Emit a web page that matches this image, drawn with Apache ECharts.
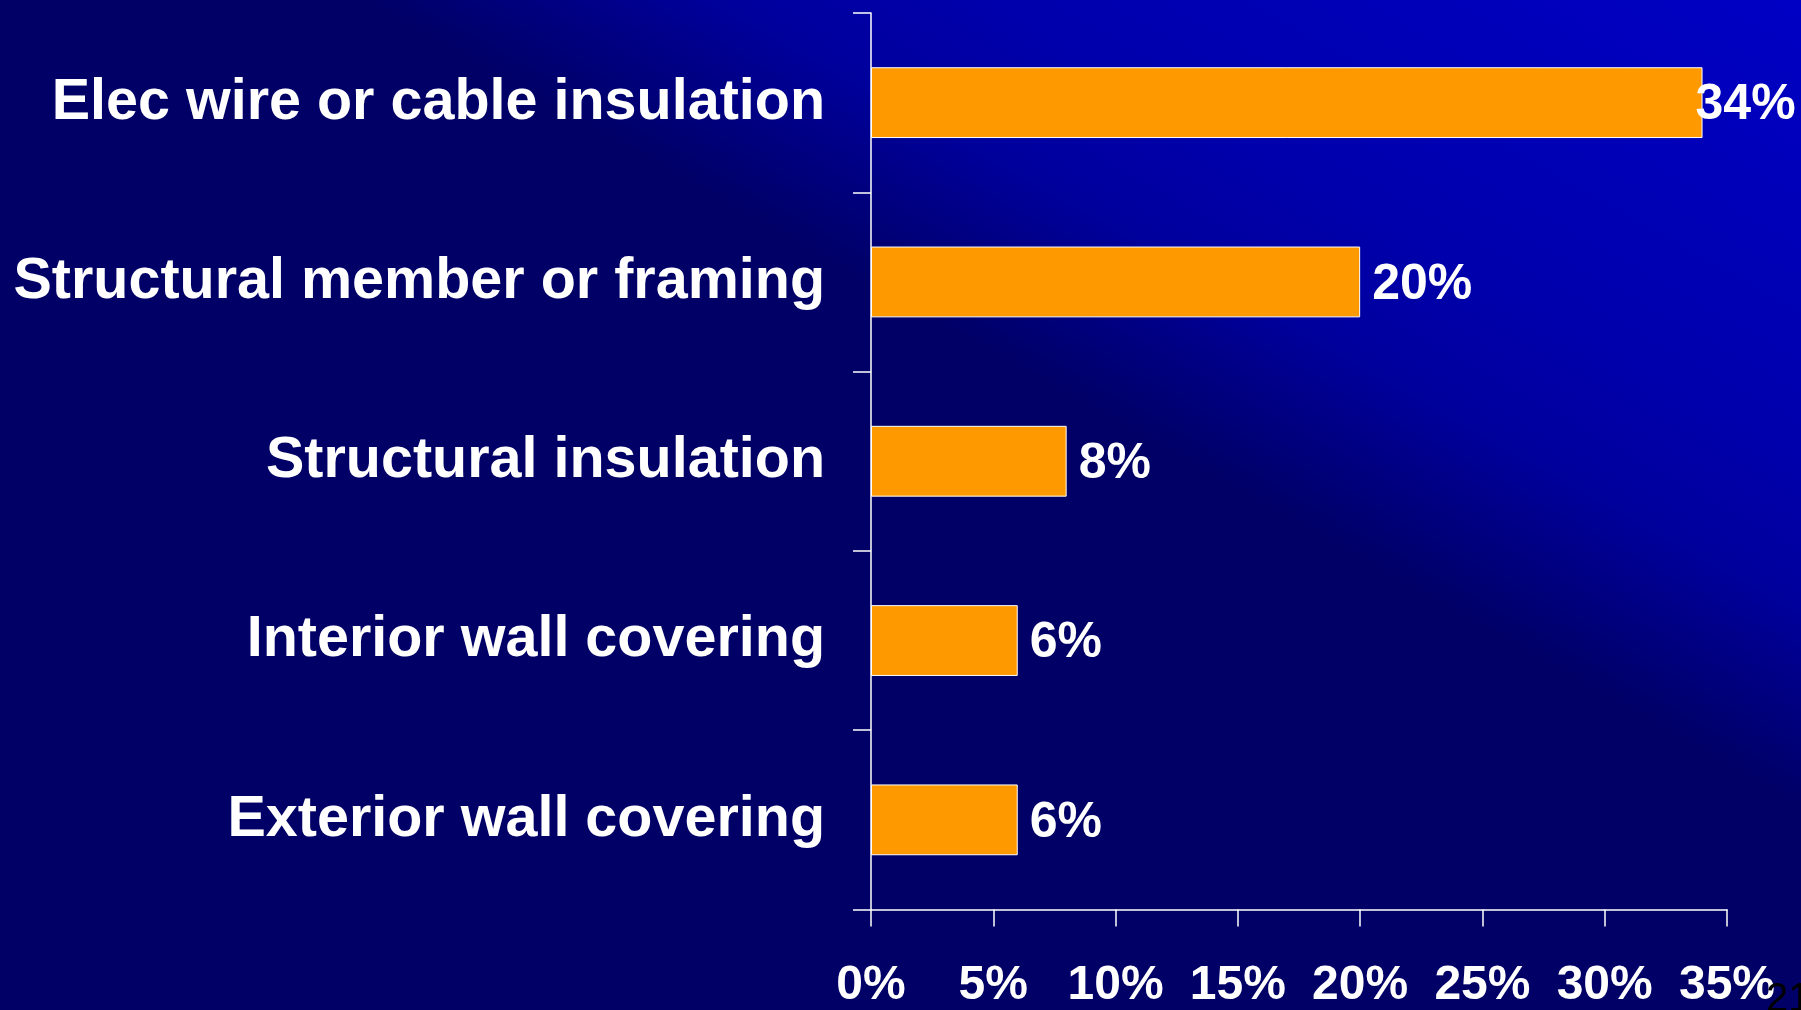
<!DOCTYPE html>
<html>
<head>
<meta charset="utf-8">
<script src="https://cdn.jsdelivr.net/npm/echarts@6/dist/echarts.min.js"></script>
<style>
  html, body { margin: 0; padding: 0; background: #000066; }
  #chart { width: 1801px; height: 1010px; }
</style>
</head>
<body>
<div id="chart"></div>
<script>
// Share of fires by item first ignited
const categories = [
  'Elec wire or cable insulation',
  'Structural member or framing',
  'Structural insulation',
  'Interior wall covering',
  'Exterior wall covering'
];
const shares = [34, 20, 8, 6, 6];
const xTicks = { min: 0, max: 35, step: 5 };
const pageNumber = '21';

const FONT = '"Liberation Sans", Arial, sans-serif';
const W = 1801, H = 1010;

const chart = echarts.init(document.getElementById('chart'), null, { renderer: 'canvas' });

const barData = shares.map(function (v, i) {
  const item = { value: v };
  // the longest bar's label is pulled back so it stays inside the canvas
  if (i === 0) item.label = { offset: [-19, 3] };
  return item;
});

// diagonal slide background: bright in the top-right corner, fading to navy
// towards the top-left / bottom-right diagonal
const diag = Math.sqrt(W * W + H * H);
const reach = W * H / diag;
const gx2 = W - H * reach / diag;
const gy2 = W * reach / diag;

chart.setOption({
  animation: false,
  backgroundColor: {
    type: 'linear', x: W, y: 0, x2: gx2, y2: gy2, global: true,
    colorStops: [
      { offset: 0, color: '#0000c4' },
      { offset: 0.45, color: '#0000ac' },
      { offset: 0.6, color: '#00009c' },
      { offset: 0.8, color: '#000066' },
      { offset: 1, color: '#000066' }
    ]
  },
  grid: { left: 871, right: 74, top: 13, bottom: 98, containLabel: false },
  xAxis: {
    type: 'value',
    min: xTicks.min, max: xTicks.max, interval: xTicks.step,
    splitLine: { show: false },
    axisLine: { show: true, lineStyle: { color: '#ffffff', width: 1.5 } },
    axisTick: { show: true, length: 17, lineStyle: { color: '#ffffff', width: 1.5 } },
    axisLabel: {
      formatter: '{value}%', color: '#ffffff', fontSize: 48, fontWeight: 'bold',
      fontFamily: FONT, margin: 52.5
    }
  },
  yAxis: {
    type: 'category',
    inverse: true,
    data: categories,
    axisLine: { show: true, lineStyle: { color: '#ffffff', width: 1.5 } },
    axisTick: { show: true, length: 18, lineStyle: { color: '#ffffff', width: 1.5 } },
    axisLabel: {
      color: '#ffffff', fontSize: 57.5, fontWeight: 'bold', fontFamily: FONT, margin: 46
    }
  },
  series: [{
    type: 'bar',
    data: barData,
    barWidth: '39.5%',
    itemStyle: { color: '#ff9900', borderColor: '#ffffff', borderWidth: 1 },
    label: {
      show: true, position: 'right', distance: 12, offset: [0, 3],
      formatter: '{c}%', color: '#ffffff', fontSize: 50, fontWeight: 'bold', fontFamily: FONT
    }
  }],
  graphic: [{
    type: 'text', left: 1766, top: 980, z: 10,
    style: { text: pageNumber, fill: '#000000', fontSize: 40, fontFamily: FONT }
  }]
});
</script>
</body>
</html>
